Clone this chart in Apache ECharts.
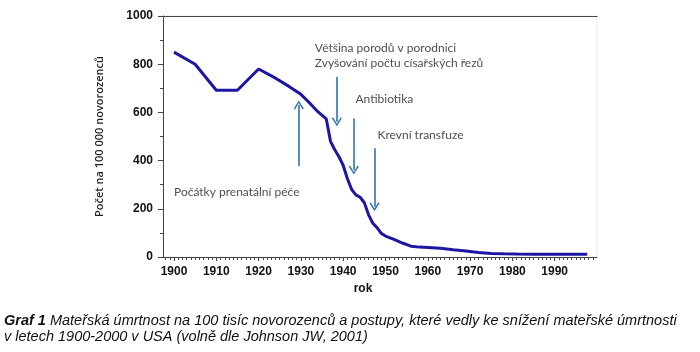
<!DOCTYPE html>
<html>
<head>
<meta charset="utf-8">
<script src="https://cdn.jsdelivr.net/npm/echarts@6/dist/echarts.min.js"></script>
<style>
  html, body { margin: 0; padding: 0; background: #fff; }
  #main { width: 700px; height: 352px; }
</style>
</head>
<body>
<div id="main"></div>
<script>
// data
var years = [1900,1905,1910,1915,1920,1924,1927,1930,1932,1934,1936,1937,1938,1939,1940,1941,1942,1943,1944,1945,1946,1947,1948,1949,1950,1952,1954,1956,1958,1960,1963,1966,1969,1972,1975,1978,1981,1985,1990,1997.7];
var deaths = [850,800,692,692,780,742,710,675,640,603,573,480,445,416,380,325,280,258,248,225,175,140,122,98,87,73,58,45,41,39,36,30,25,19,15,13,12,11,11,11];
var decadeTicks = [1900,1910,1920,1930,1940,1950,1960,1970,1980,1990];
var yearTicks = [];
for (var y = 1898; y <= 1999; y++) yearTicks.push(y);

// annotations: [year, value, text]
var notes = [
  [1933.3, 867, 'Většina porodů v porodnici'],
  [1933.3, 805, 'Zvyšování počtu císařských řezů'],
  [1942.9, 656, 'Antibiotika'],
  [1948.1, 506, 'Krevní transfuze'],
  [1900, 271, 'Počátky prenatální péče']
];
// arrows: [year, from, to]
var arrows = [
  [1929.5, 378, 631],
  [1938.5, 748, 561],
  [1942.5, 575, 361],
  [1947.4, 451, 209]
];

var lineData = years.map(function (yr, i) { return [yr, deaths[i]]; });
var chevron = 'path://M5,0 L10,8 L8.8,9 L5,2.6 L1.2,9 L0,8 Z';
var plain = function (v) { return String(v); };

var myChart = echarts.init(document.getElementById('main'));
var option = {
  animation: false,
  grid: { left: 163, right: 103, top: 16, bottom: 95, show: true, borderColor: '#ececec', borderWidth: 1 },
  xAxis: [{
    type: 'value', min: 1897.4, max: 2000,
    name: 'rok', nameLocation: 'middle', nameGap: 25,
    nameTextStyle: { fontFamily: 'Liberation Sans', fontWeight: 'bold', fontSize: 12, color: '#111', padding: [0, 34, 0, 0] },
    axisLine: { lineStyle: { color: '#444', width: 1 } },
    axisTick: { customValues: decadeTicks, length: 4, lineStyle: { color: '#444' } },
    axisLabel: { customValues: decadeTicks, formatter: plain, fontFamily: 'Liberation Sans', fontWeight: 'bold', fontSize: 12, color: '#111', margin: 9 },
    splitLine: { show: false }
  }, {
    type: 'value', min: 1897.4, max: 2000, position: 'bottom',
    axisLine: { show: false },
    axisTick: { customValues: yearTicks, length: 3, lineStyle: { color: '#444' } },
    axisLabel: { show: false },
    splitLine: { show: false }
  }, {
    type: 'value', min: 1897.4, max: 2000, position: 'top',
    axisLine: { lineStyle: { color: '#444', width: 1.2 } },
    axisTick: { show: false },
    axisLabel: { show: false },
    splitLine: { show: false }
  }],
  yAxis: {
    type: 'value', min: 0, max: 1000, interval: 200,
    name: 'Počet na 100 000 novorozenců', nameLocation: 'middle', nameGap: 58,
    nameTextStyle: { fontFamily: 'Open Sans', fontWeight: 600, fontSize: 11, color: '#222' },
    axisLine: { show: true, lineStyle: { color: '#444', width: 1 } },
    axisTick: { show: true, length: 5, lineStyle: { color: '#444' } },
    minorTick: { show: true, splitNumber: 2, length: 3, lineStyle: { color: '#444' } },
    axisLabel: { formatter: plain, fontFamily: 'Liberation Sans', fontWeight: 'bold', fontSize: 12, color: '#111', margin: 10 },
    splitLine: { show: false }
  },
  series: [{
    type: 'line',
    data: lineData,
    showSymbol: false,
    lineStyle: { color: '#1c16a3', width: 3 },
    markLine: {
      silent: true,
      symbol: ['none', chevron],
      symbolSize: [10, 9],
      lineStyle: { color: '#2f72b8', width: 1.6, type: 'solid' },
      label: { show: false },
      data: arrows.map(function (a) {
        return [{ coord: [a[0], a[1]] }, { coord: [a[0], a[2]] }];
      })
    },
    z: 3
  }, {
    type: 'scatter',
    data: notes.map(function (n) { return { value: [n[0], n[1]], name: n[2] }; }),
    symbolSize: 0,
    silent: true,
    label: {
      show: true, position: 'right', distance: 0,
      formatter: function (p) { return p.name; },
      fontFamily: 'Lato', fontSize: 12, color: '#222'
    }
  }],
  graphic: [{
    type: 'text', left: 4, top: 313,
    style: {
      text: '{b|Graf 1} Mateřská úmrtnost na 100 tisíc novorozenců a postupy, které vedly ke snížení mateřské úmrtnosti\nv letech 1900-2000 v USA (volně dle Johnson JW, 2001)',
      fontFamily: 'Liberation Sans', fontStyle: 'italic', fontSize: 14.5, lineHeight: 16, fill: '#111',
      rich: { b: { fontFamily: 'Liberation Sans', fontStyle: 'italic', fontWeight: 'bold', fontSize: 14.5, fill: '#111' } }
    }
  }]
};
myChart.setOption(option);
</script>
</body>
</html>
